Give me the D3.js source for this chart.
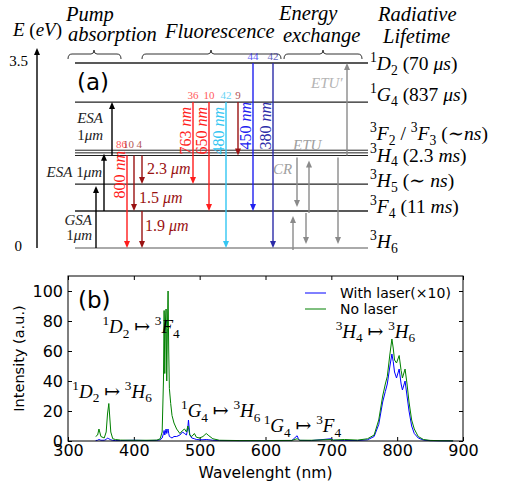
<!DOCTYPE html>
<html>
<head>
<meta charset="utf-8">
<script src="https://cdn.jsdelivr.net/npm/d3@7"></script>
<style>body{margin:0;background:#fff}text{white-space:pre}</style>
</head>
<body>
<div id="chart"></div>
<script>
// ---- panel (a): Tm levels (eV) ----
var levelIds = ["1D2", "1G4", "3F2", "3F3", "3H4", "3H5", "3F4", "3H6"];
var levelEnergy = [3.5, 2.76, 1.85, 1.80, 1.75, 1.21, 0.70, 0];
var levelLabels = ["^1D_2 (70 μs)", "^1G_4 (837 μs)", "^3F_2 / ^3F_3 (∼ns)", "", "^3H_4 (2.3 ms)", "^3H_5 (∼ ns)", "^3F_4 (11 ms)", "^3H_6"];
var energyTicks = [0, 3.5];

var pumpTransitions = [
    {id: "gsa", from: "3H6", to: "3H5", label: ["GSA", "1μm"]},
    {id: "esa1", from: "3F4", to: "3F3", label: ["ESA 1μm"]},
    {id: "esa2", from: "3H4", to: "1G4", label: ["ESA", "1μm"]}
];
// wl in nm, branch = branching ratio (%)
var fluoTransitions = [
    {id: "f800", from: "3H4", to: "3H6", wl: 800, branch: "86", label: "800 nm"},
    {id: "f1500", from: "3H4", to: "3F4", wl: 1500, branch: "10", label: "1.5 μm"},
    {id: "f2300", from: "3H4", to: "3H5", wl: 2300, branch: "4", label: "2.3 μm"},
    {id: "f1900", from: "3F4", to: "3H6", wl: 1900, branch: "", label: "1.9 μm"},
    {id: "f763", from: "1G4", to: "3H5", wl: 763, branch: "36", label: "763 nm"},
    {id: "f650", from: "1G4", to: "3F4", wl: 650, branch: "10", label: "650 nm"},
    {id: "f480", from: "1G4", to: "3H6", wl: 480, branch: "42", label: "480 nm"},
    {id: "f1180", from: "1G4", to: "3H4", wl: 1180, branch: "9", label: ""},
    {id: "f450", from: "1D2", to: "3F4", wl: 450, branch: "44", label: "450 nm"},
    {id: "f380", from: "1D2", to: "3H6", wl: 380, branch: "42", label: "380 nm"}
];
var exchangeTransitions = [
    {id: "cr1", from: "3H4", to: "3F4"},
    {id: "cr2", from: "3H6", to: "3F4"},
    {id: "etu1", from: "3F4", to: "3H4"},
    {id: "etu2", from: "3F4", to: "3H6"},
    {id: "etu3", from: "3H4", to: "3H6"},
    {id: "etup", from: "3H4", to: "1D2"}
];
var exchangeNames = ["ETU′", "ETU", "CR"];
var columnHeaders = [["Pump", "absorption"], ["Fluorescence"], ["Energy", "exchange"], ["Radiative", "Lifetime"]];

// ---- panel (b): spectra ----
var wavelength = [342, 345, 347, 350, 355, 358, 360, 362, 365, 368, 372, 380, 400, 420, 435, 440, 443, 445, 446, 447, 448, 449, 450, 451, 452, 453, 454, 456, 458, 461, 465, 470, 474, 477, 480, 482, 483, 485, 488, 492, 495, 500, 505, 510, 514, 520, 530, 560, 600, 640, 648, 650, 652, 670, 700, 703, 720, 740, 755, 765, 772, 778, 782, 785, 789, 792, 794, 796, 799, 803, 806, 808, 812, 815, 818, 822, 826, 832, 840, 850, 865, 885];
var noLaser = [3, 4, 8, 3, 2, 6, 18, 25, 6, 1.5, 1, 0.6, 0.5, 0.5, 0.6, 1.5, 6, 40, 87, 45, 80, 88, 40, 75, 100, 60, 35, 25, 17, 12, 8, 5, 7, 8, 6, 10, 9, 4, 3, 5, 2.5, 2, 3, 5, 3.5, 1.5, 0.5, 0.3, 0.3, 0.4, 1.5, 1, 0.5, 0.5, 1, 0.6, 1, 0.6, 1.5, 4, 14, 30, 38, 43, 58, 68, 62, 54, 52, 57, 47, 42, 48, 38, 26, 14, 8, 3, 1, 0.4, 0.2, 0.1];
var withLaser = [0.3, 0.5, 1, 0.5, 0.5, 1, 2, 1.5, 0.8, 0.4, 0.3, 0.3, 0.5, 0.3, 0.4, 0.8, 2, 5, 7, 4, 6, 8, 5, 7, 8, 5, 3, 2.5, 2, 3, 3, 4, 6, 5, 4, 9, 14, 4, 2, 1.5, 1, 0.8, 0.8, 1, 0.8, 0.5, 0.3, 0.2, 0.2, 0.3, 3.5, 1.5, 0.4, 0.3, 1.5, 0.5, 0.4, 0.3, 0.8, 3, 11, 26, 33, 38, 50, 58, 53, 46, 42, 48, 38, 34, 40, 30, 20, 10, 5, 2, 0.6, 0.2, 0.1, 0.05];
var seriesNames = ["With laser(×10)", "No laser"];
var xTicks = [300, 400, 500, 600, 700, 800, 900];
var yTicks = [0, 20, 40, 60, 80, 100];
var annotations = [
    {text: "^1D_2 ↦ ^3F_4", x: 411, y: 72},
    {text: "^1D_2 ↦ ^3H_6", x: 367, y: 29},
    {text: "^1G_4 ↦ ^3H_6", x: 532, y: 16},
    {text: "^1G_4 ↦ ^3F_4", x: 656, y: 6},
    {text: "^3H_4 ↦ ^3H_6", x: 767, y: 69}
];

function init() {
    var w = 505, h = 485;
    var serif = "'Liberation Serif', 'DejaVu Serif', serif";
    var sans = "'DejaVu Sans', sans-serif";

    var svg = d3.select("#chart").append("svg")
                .attr("width", w)
                .attr("height", h);

    // simple LaTeX-ish text: ^x superscript, _x subscript, letters italic
    function mathText(parent, str, x, y, size, color, anchor) {
        var t = parent.append("text")
                      .attr("x", x).attr("y", y)
                      .attr("font-family", serif)
                      .attr("font-size", size)
                      .attr("fill", color || "#000")
                      .attr("text-anchor", anchor || "start");
        var re = /\^(.)|_(.)|([^\^_]+)/g, m, shift = 0;
        while ((m = re.exec(str)) !== null) {
            var target = m[1] ? -0.42 * size : m[2] ? 0.25 * size : 0;
            var txt = m[1] || m[2] || m[3];
            var fs = (m[1] || m[2]) ? size * 0.7 : size;
            var parts = txt.split(/([A-Za-zμ′]+)/).filter(function(p) { return p.length; });
            parts.forEach(function(p, i) {
                t.append("tspan")
                 .attr("dy", i === 0 ? target - shift : 0)
                 .attr("font-size", fs)
                 .attr("font-style", /[A-Za-zμ]/.test(p) ? "italic" : "normal")
                 .text(p);
            });
            shift = target;
        }
        return t;
    }

    function arrow(g, x, y1, y2, color, width) {
        var dir = y2 < y1 ? -1 : 1;
        var head = 7;
        g.append("line")
         .attr("x1", x).attr("x2", x)
         .attr("y1", y1).attr("y2", y2 - dir * head + dir)
         .attr("stroke", color).attr("stroke-width", width || 1.4);
        g.append("path")
         .attr("d", "M" + (x - 3) + "," + (y2 - dir * head) + "L" + (x + 3) + "," + (y2 - dir * head) + "L" + x + "," + y2 + "Z")
         .attr("fill", color);
    }

    // ================= panel (a) =================
    var gA = svg.append("g");
    var yE = d3.scaleLinear().domain([0, 3.5]).range([248, 63]);
    var energyOf = {};
    levelIds.forEach(function(id, i) { energyOf[id] = levelEnergy[i]; });
    function yL(id) { return yE(energyOf[id]); }

    // energy axis
    arrow(gA, 37, yE(0), 48, "#000", 1.4);
    energyTicks.forEach(function(e) {
        gA.append("text").attr("x", e === 0 ? 22 : 28).attr("y", yE(e) + 3)
          .attr("text-anchor", "end").attr("font-family", serif).attr("font-size", 15)
          .text(e);
    });
    mathText(gA, "E (eV)", 13, 36, 19);

    // column headers (left edge, baselines)
    var headerPos = [[[66, 21], [68, 41]], [[165, 38]], [[279, 20], [283, 42]], [[378, 21], [383, 43]]];
    columnHeaders.forEach(function(lines, i) {
        lines.forEach(function(s, j) {
            var p = headerPos[i][j];
            mathText(gA, s, p[0], p[1], 20.5, "#000", "start");
        });
    });

    // braces
    [[68, 121, 94], [142, 281, 211], [284, 362, 323]].forEach(function(b) {
        var y = 54;
        gA.append("path")
          .attr("d", "M" + b[0] + "," + (y + 5) + "Q" + b[0] + "," + y + " " + (b[0] + 4) + "," + y +
                     "L" + (b[2] - 3) + "," + y + "Q" + b[2] + "," + y + " " + b[2] + "," + (y - 4) +
                     "Q" + b[2] + "," + y + " " + (b[2] + 3) + "," + y +
                     "L" + (b[1] - 4) + "," + y + "Q" + b[1] + "," + y + " " + b[1] + "," + (y + 5))
          .attr("fill", "none").attr("stroke", "#333").attr("stroke-width", 1);
    });

    // level lines
    levelIds.forEach(function(id, i) {
        var ground = id === "3H6";
        var close = ["3F2", "3F3", "3H4"].indexOf(id) >= 0;
        gA.append("line")
          .attr("x1", 75).attr("x2", 368)
          .attr("y1", yE(levelEnergy[i])).attr("y2", yE(levelEnergy[i]))
          .attr("stroke", ground ? "#aaa" : "#222")
          .attr("stroke-width", ground ? 2 : (close ? 1 : 1.3));
    });

    // level labels
    var labelDy = {"1D2": 7, "1G4": -1, "3F2": -10, "3H4": 6, "3H5": 3, "3F4": 2, "3H6": 0};
    levelIds.forEach(function(id, i) {
        if (!levelLabels[i]) return;
        mathText(gA, levelLabels[i], 370, yE(levelEnergy[i]) + labelDy[id], 19.5);
    });

    gA.append("text").attr("x", 77).attr("y", 90)
      .attr("font-family", sans).attr("font-size", 23).text("(a)");

    // pump absorption
    var pumpX = d3.scaleOrdinal().domain(["gsa", "esa1", "esa2"]).range([96, 104, 112]);
    var pumpGap = {gsa: 2, esa1: 1, esa2: 0};
    var pumpLabelPos = {gsa: [[92, 225], [92, 240]], esa1: [[102, 177]], esa2: [[103, 123], [103, 140]]};
    pumpTransitions.forEach(function(d) {
        arrow(gA, pumpX(d.id), yL(d.from), yL(d.to) + pumpGap[d.id], "#000", 1.4);
        d.label.forEach(function(s, j) {
            var p = pumpLabelPos[d.id][j];
            mathText(gA, s, p[0], p[1], 15, "#222", "end");
        });
    });

    // fluorescence
    var colorOf = d3.scaleThreshold().domain([400, 465, 500, 900])
                    .range(["#2b2ba8", "#2020f0", "#33c6f2", "#ff1c1c", "#9a1212"]);
    var fluoX = d3.scaleOrdinal()
                  .domain(fluoTransitions.map(function(d) { return d.id; }))
                  .range([127, 134, 142, 142, 193, 209, 226, 238, 253, 273]);
    var irLabelPos = {f1500: [139, 203], f2300: [147, 174], f1900: [145, 231]};
    fluoTransitions.forEach(function(d) {
        var x = fluoX(d.id), c = colorOf(d.wl);
        var start = yL(d.from);
        arrow(gA, x, start, yL(d.to), c, 1.4);
        // branching ratio
        if (d.branch) {
            var by = d.from === "3H4" ? yL("3F2") - 2 : start - 3;
            gA.append("text").attr("x", x).attr("y", by)
              .attr("text-anchor", d.from === "3H4" ? "end" : "middle")
              .attr("font-family", serif).attr("font-size", 11)
              .attr("fill", c).attr("opacity", 0.75).text(d.branch);
        }
        if (!d.label) return;
        if (d.wl < 1000) {
            var top = d.from === "1D2" ? 102 : (d.from === "1G4" ? 107 : 151);
            mathText(gA, d.label, 0, 0, 16, c, "end")
              .attr("transform", "translate(" + (x - 2) + "," + top + ") rotate(-90)");
        } else {
            var p = irLabelPos[d.id];
            mathText(gA, d.label, p[0], p[1], 16, c);
        }
    });

    // energy exchange
    var exX = d3.scaleOrdinal()
                .domain(exchangeTransitions.map(function(d) { return d.id; }))
                .range([297, 293, 309, 306, 338, 347]);
    exchangeTransitions.forEach(function(d) {
        var gap = d.id === "etup" ? 0 : (yL(d.to) > yL(d.from) ? -4 : 5);
        arrow(gA, exX(d.id), yL(d.from) + (d.id === "etup" ? 0 : 2), yL(d.to) + gap, "#8a8a8a", 1.4);
    });
    var exNamePos = [[311, 88, "#b4b4b4"], [293, 150, "#a0a0a0"], [273, 174, "#a0a0a0"]];
    exchangeNames.forEach(function(s, i) {
        mathText(gA, s, exNamePos[i][0], exNamePos[i][1], 15, exNamePos[i][2]);
    });

    // ================= panel (b) =================
    var gB = svg.append("g");
    var left = 68, right = 463, top = 276, bottom = 441;
    var x = d3.scaleLinear().domain([300, 900]).range([left, right]);
    var y = d3.scaleLinear().domain([0, 110]).range([bottom, top]);

    gB.append("g").attr("transform", "translate(0," + bottom + ")")
      .call(d3.axisBottom(x).tickValues(xTicks).tickSizeInner(-4).tickSizeOuter(0).tickPadding(4))
      .call(function(g) { g.select(".domain").remove(); })
      .selectAll("text").attr("font-family", sans).attr("font-size", 16).attr("fill", "#000");
    gB.append("g").attr("transform", "translate(0," + top + ")")
      .call(d3.axisTop(x).tickValues(xTicks).tickSizeInner(-4).tickSizeOuter(0).tickFormat(""))
      .call(function(g) { g.select(".domain").remove(); });
    gB.append("g").attr("transform", "translate(" + left + ",0)")
      .call(d3.axisLeft(y).tickValues(yTicks).tickSizeInner(-4).tickSizeOuter(0).tickPadding(5))
      .call(function(g) { g.select(".domain").remove(); })
      .selectAll("text").attr("font-family", sans).attr("font-size", 16).attr("fill", "#000");
    gB.append("g").attr("transform", "translate(" + right + ",0)")
      .call(d3.axisRight(y).tickValues(yTicks).tickSizeInner(-4).tickSizeOuter(0).tickFormat(""))
      .call(function(g) { g.select(".domain").remove(); });

    var line = d3.line()
                 .x(function(d) { return x(d[0]); })
                 .y(function(d) { return y(d[1]); });
    var seriesColors = ["#0000ff", "#008000"];
    [withLaser, noLaser].forEach(function(vals, i) {
        gB.append("path")
          .datum(wavelength.map(function(wl, j) { return [wl, vals[j]]; }))
          .attr("d", line)
          .attr("fill", "none")
          .attr("stroke", seriesColors[i])
          .attr("stroke-width", 1);
    });

    gB.append("rect")
      .attr("x", left).attr("y", top)
      .attr("width", right - left).attr("height", bottom - top)
      .attr("fill", "none").attr("stroke", "#000").attr("stroke-width", 1);

    // legend
    seriesNames.forEach(function(s, i) {
        var ly = 293 + i * 16;
        gB.append("line").attr("x1", 305).attr("x2", 326).attr("y1", ly).attr("y2", ly)
          .attr("stroke", seriesColors[i]).attr("stroke-width", 1);
        gB.append("text").attr("x", 340).attr("y", ly + 5)
          .attr("font-family", sans).attr("font-size", 14).text(s);
    });

    annotations.forEach(function(a) {
        mathText(gB, a.text, x(a.x), y(a.y), 19, "#000", "middle");
    });

    gB.append("text").attr("x", 78).attr("y", 308)
      .attr("font-family", sans).attr("font-size", 23).text("(b)");

    gB.append("text")
      .attr("transform", "translate(24," + ((top + bottom) / 2) + ") rotate(-90)")
      .attr("text-anchor", "middle")
      .attr("font-family", sans).attr("font-size", 14.5)
      .text("Intensity (a.u.)");
    gB.append("text").attr("x", (left + right) / 2).attr("y", 478)
      .attr("text-anchor", "middle")
      .attr("font-family", sans).attr("font-size", 15.5)
      .text("Wavelenght (nm)");
}

window.onload = init;
</script>
</body>
</html>
